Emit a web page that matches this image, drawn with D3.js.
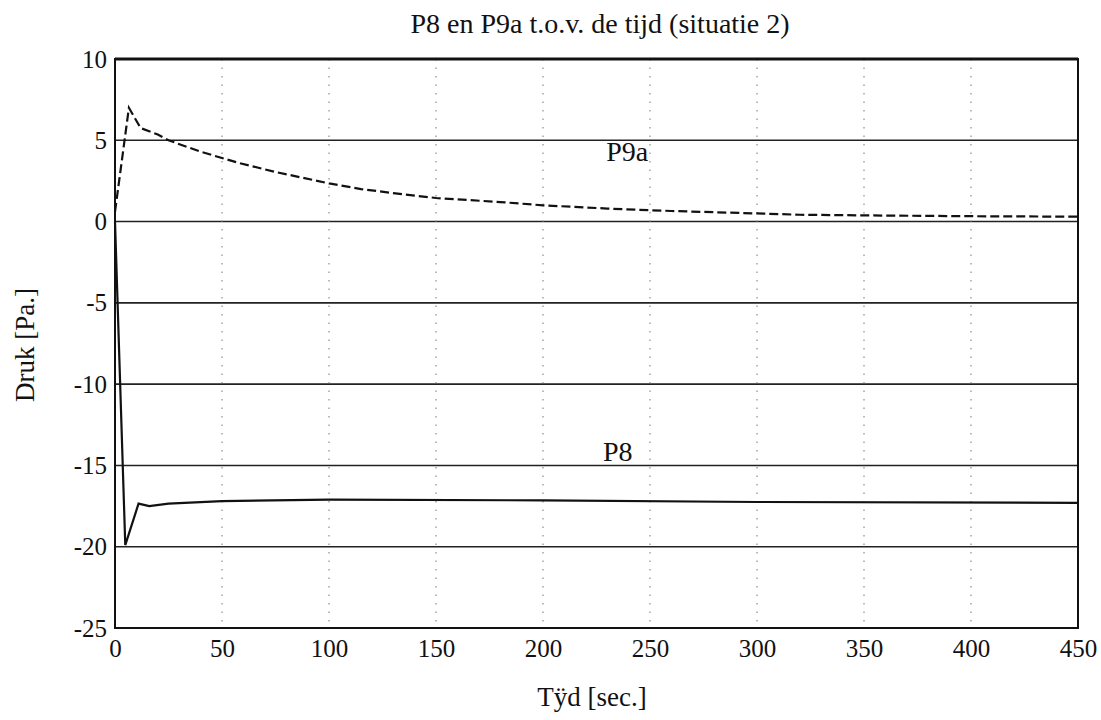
<!DOCTYPE html>
<html>
<head>
<meta charset="utf-8">
<script src="https://cdn.jsdelivr.net/npm/d3@7"></script>
<style>
  body { margin: 0; background: #fff; }
  svg text { font-family: "Liberation Serif", "Times New Roman", Times, "DejaVu Serif", serif; fill: #111; }
</style>
</head>
<body>
<div class="chart"></div>
<script>
// tijd [sec.] en druk [Pa.] per lijn
const p9aTime  = [0, 6.5, 12, 20, 25, 40, 58, 75, 100, 115, 130, 150, 180, 200, 230, 260, 300, 320, 350, 400, 450];
const p9aDruk  = [0.6, 7.0, 5.75, 5.35, 5.0, 4.3, 3.6, 3.05, 2.35, 2.0, 1.75, 1.45, 1.2, 1.0, 0.8, 0.65, 0.5, 0.42, 0.38, 0.33, 0.3];
const p8Time   = [0, 4.8, 11, 16, 25, 50, 100, 200, 300, 450];
const p8Druk   = [0, -19.9, -17.35, -17.5, -17.35, -17.2, -17.1, -17.15, -17.25, -17.3];

const xTicks = [0, 50, 100, 150, 200, 250, 300, 350, 400, 450];
const yTicks = [10, 5, 0, -5, -10, -15, -20, -25];

// label positions in data units
const labels = [
  { name: "P9a", t: 229.5, p: 3.7 },
  { name: "P8",  t: 228, p: -14.75 }
];

const serif = "'Liberation Serif', 'Times New Roman', Times, 'DejaVu Serif', serif";

var cfg = {
  width: 1101,
  height: 720,
  margin: { top: 59, right: 23, bottom: 92, left: 115 }
};

var scale = {
  x: d3.scaleLinear().domain([0, 450])
       .range([cfg.margin.left, cfg.width - cfg.margin.right]),
  y: d3.scaleLinear().domain([-25, 10])
       .range([cfg.height - cfg.margin.bottom, cfg.margin.top])
};

var svg = d3.select(".chart").append("svg")
  .attr("width", cfg.width)
  .attr("height", cfg.height)
  .attr("font-family", serif);

// horizontal grid (dark, near solid)
svg.append("g")
  .selectAll("line")
  .data(yTicks)
  .enter().append("line")
  .attr("x1", scale.x(0)).attr("x2", scale.x(450))
  .attr("y1", d => scale.y(d)).attr("y2", d => scale.y(d))
  .style("stroke", "#222")
  .style("stroke-width", 1.6);

// vertical grid (sparse dots)
svg.append("g")
  .selectAll("line")
  .data(xTicks.slice(1, -1))
  .enter().append("line")
  .attr("x1", d => scale.x(d)).attr("x2", d => scale.x(d))
  .attr("y1", scale.y(10)).attr("y2", scale.y(-25))
  .style("stroke", "#777")
  .style("stroke-width", 1)
  .style("stroke-dasharray", "1.5,7");

// axes
let xAxis = svg.append("g")
  .attr("transform", `translate(0, ${scale.y(-25)})`)
  .call(d3.axisBottom(scale.x).tickValues(xTicks).tickSize(0).tickPadding(11)
        .tickFormat(d => String(d)));
xAxis.attr("font-family", serif);
xAxis.select(".domain").remove();
xAxis.selectAll("text")
  .style("font-size", "25px")
  .style("font-family", serif)
  .attr("fill", "#111");

let yAxis = svg.append("g")
  .attr("transform", `translate(${scale.x(0)}, 0)`)
  .call(d3.axisLeft(scale.y).tickValues(yTicks).tickSize(0).tickPadding(8)
        .tickFormat(d => String(d)));
yAxis.attr("font-family", serif);
yAxis.select(".domain").remove();
yAxis.selectAll("text")
  .style("font-size", "25px")
  .style("font-family", serif)
  .attr("fill", "#111");

// frame
svg.append("rect")
  .attr("x", scale.x(0)).attr("y", scale.y(10))
  .attr("width", scale.x(450) - scale.x(0))
  .attr("height", scale.y(-25) - scale.y(10))
  .style("fill", "none")
  .style("stroke", "#111")
  .style("stroke-width", 2);
svg.append("line")
  .attr("x1", scale.x(0)).attr("x2", scale.x(450))
  .attr("y1", scale.y(10)).attr("y2", scale.y(10))
  .style("stroke", "#111")
  .style("stroke-width", 3);

var line = d3.line()
  .x(d => scale.x(d[0]))
  .y(d => scale.y(d[1]));

// P9a dashed
svg.append("path")
  .datum(d3.zip(p9aTime, p9aDruk))
  .attr("d", line)
  .style("fill", "none")
  .style("stroke", "#111")
  .style("stroke-width", 2.2)
  .style("stroke-dasharray", "9,4");

// P8 solid
svg.append("path")
  .datum(d3.zip(p8Time, p8Druk))
  .attr("d", line)
  .style("fill", "none")
  .style("stroke", "#111")
  .style("stroke-width", 2.2);

// line labels
svg.append("g")
  .selectAll("text")
  .data(labels)
  .enter().append("text")
  .attr("x", d => scale.x(d.t))
  .attr("y", d => scale.y(d.p))
  .style("font-size", "28px")
  .style("font-family", serif)
  .text(d => d.name);

// title
svg.append("text")
  .attr("x", 600).attr("y", 33)
  .attr("text-anchor", "middle")
  .style("font-size", "28px")
  .style("font-family", serif)
  .text("P8 en P9a t.o.v. de tijd (situatie 2)");

// axis titles
svg.append("text")
  .attr("x", 592).attr("y", 706)
  .attr("text-anchor", "middle")
  .style("font-size", "27px")
  .style("font-family", serif)
  .text("Tÿd [sec.]");

svg.append("text")
  .attr("transform", "translate(34, 345) rotate(-90)")
  .attr("text-anchor", "middle")
  .style("font-size", "27px")
  .style("font-family", serif)
  .text("Druk [Pa.]");
</script>
</body>
</html>
